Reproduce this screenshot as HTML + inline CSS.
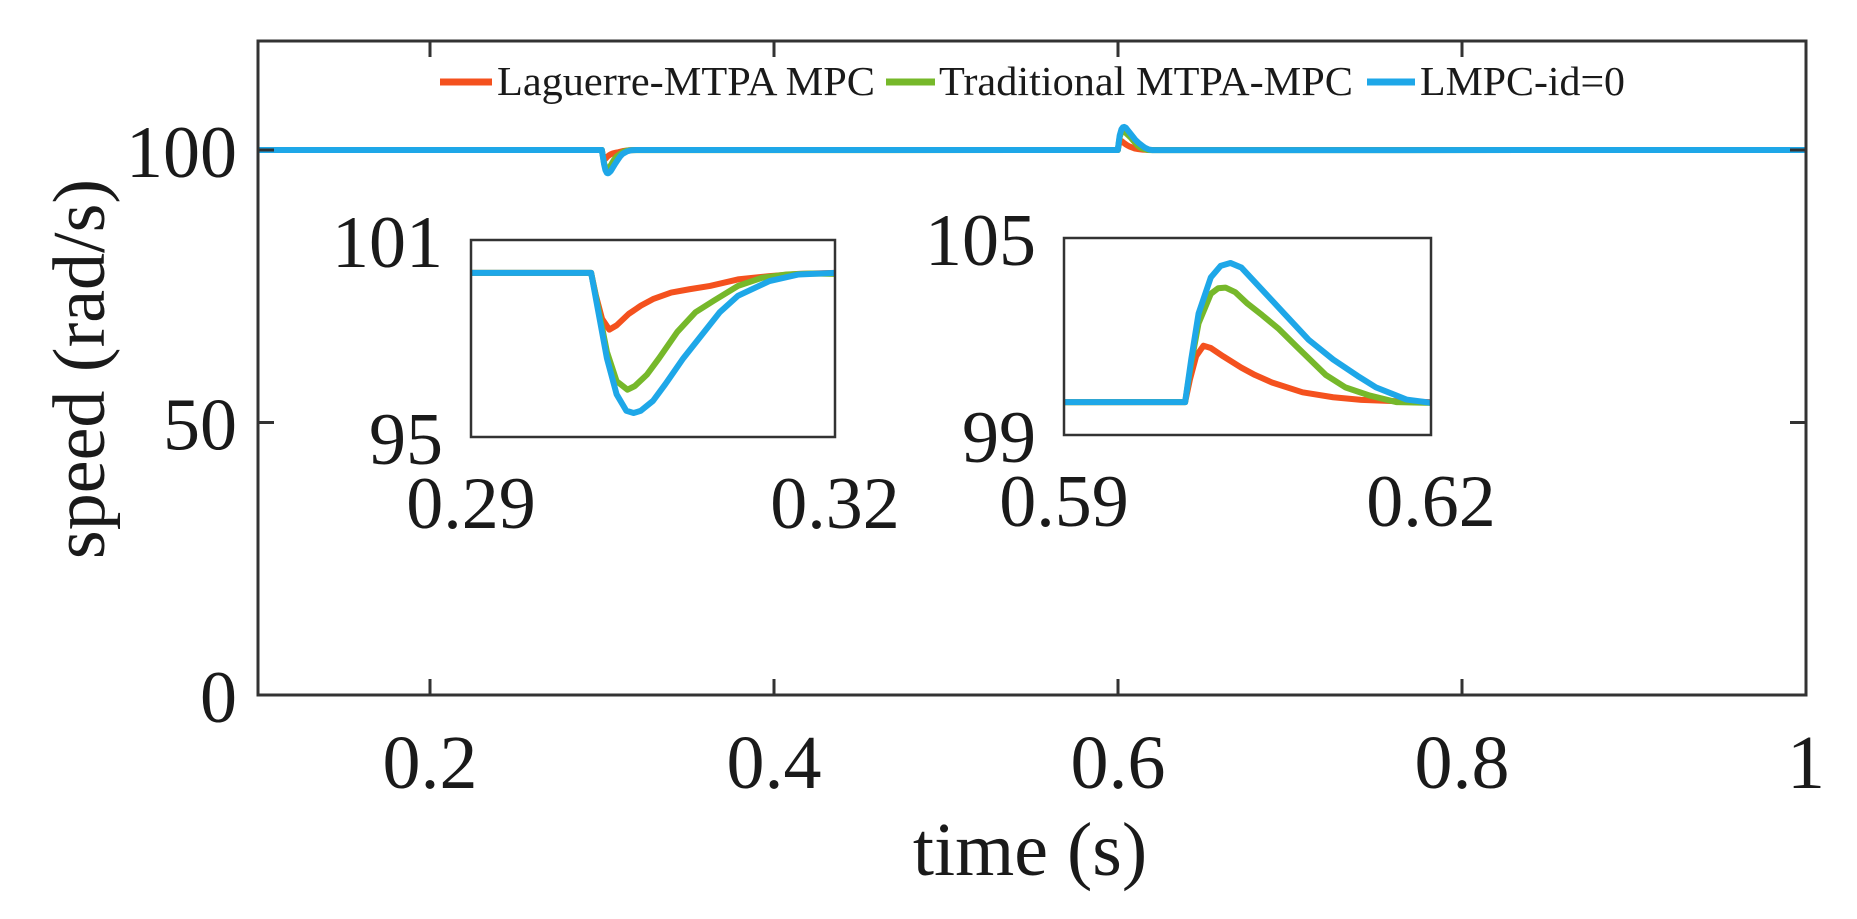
<!DOCTYPE html>
<html><head><meta charset="utf-8">
<style>
html,body{margin:0;padding:0;background:#fff;}
svg{display:block;}
text{font-family:"Liberation Serif","Times New Roman",serif;fill:#1a1a1a;}
</style></head>
<body>
<svg id="chart" width="1857" height="919" viewBox="0 0 1857 919" xmlns="http://www.w3.org/2000/svg">
<defs>
<clipPath id="clipMain"><rect x="258" y="41" width="1548" height="654"/></clipPath>
<clipPath id="clipIn1"><rect x="471" y="240" width="364" height="197"/></clipPath>
<clipPath id="clipIn2"><rect x="1064" y="238" width="367" height="197"/></clipPath>
</defs>
<g id="main"></g>
<g id="inset1"></g>
<g id="inset2"></g>
<g id="legend">
  <line x1="440" y1="82" x2="492" y2="82" stroke="#f4511e" stroke-width="7"/>
  <text x="497" y="95" font-size="41" textLength="378" lengthAdjust="spacingAndGlyphs">Laguerre-MTPA MPC</text>
  <line x1="886" y1="82" x2="935" y2="82" stroke="#76b82a" stroke-width="7"/>
  <text x="939" y="95" font-size="41" textLength="414" lengthAdjust="spacingAndGlyphs">Traditional MTPA-MPC</text>
  <line x1="1367" y1="82" x2="1415" y2="82" stroke="#1ea7e8" stroke-width="7"/>
  <text x="1420" y="95" font-size="41" textLength="205" lengthAdjust="spacingAndGlyphs">LMPC-id=0</text>
</g>
<text x="1030" y="875" font-size="76" text-anchor="middle">time (s)</text>
<text x="0" y="0" font-size="74" text-anchor="middle" transform="translate(104,369) rotate(-90)">speed (rad/s)</text>
</svg>
<script>
// ---- data ----
const seriesNames = ["Laguerre-MTPA MPC", "Traditional MTPA-MPC", "LMPC-id=0"];
const laguerreTime = [0.1,0.2999,0.3003,0.3008,0.3014,0.302,0.303,0.304,0.305,0.3065,0.308,0.3097,0.312,0.3146,0.317,0.32,0.5999,0.6003,0.6008,0.6014,0.602,0.603,0.6045,0.6056,0.607,0.6095,0.612,0.6143,0.617,0.62,1.0];
const laguerreSpeed = [100,100,99.3,98.6,98.27,98.4,98.75,99.0,99.2,99.4,99.5,99.6,99.8,99.9,99.97,100,100,100.7,101.4,101.72,101.65,101.4,101.05,100.83,100.6,100.3,100.15,100.07,100.03,100.0,100];
const traditionalTime = [0.1,0.2999,0.3005,0.3012,0.302,0.3029,0.3035,0.3045,0.3055,0.307,0.3085,0.31,0.312,0.314,0.316,0.318,0.32,0.5999,0.6004,0.601,0.602,0.6026,0.6032,0.604,0.605,0.6062,0.6075,0.609,0.6114,0.613,0.615,0.6172,0.62,1.0];
const traditionalSpeed = [100,100,98.9,97.6,96.7,96.44,96.55,96.9,97.4,98.2,98.8,99.15,99.6,99.85,99.95,99.98,99.97,100,101.2,102.4,103.3,103.47,103.49,103.35,103.0,102.65,102.25,101.7,100.83,100.45,100.2,100.0,99.98,100];
const lmpcTime = [0.1,0.2999,0.3005,0.3012,0.302,0.3028,0.3034,0.304,0.305,0.306,0.3075,0.309,0.3105,0.312,0.3146,0.317,0.32,0.5999,0.6004,0.601,0.602,0.6028,0.6036,0.6045,0.6055,0.6065,0.608,0.61,0.612,0.614,0.6155,0.618,0.62,1.0];
const lmpcSpeed = [100,100,98.8,97.4,96.3,95.8,95.73,95.8,96.1,96.6,97.4,98.1,98.8,99.3,99.75,99.95,100,100,101.3,102.7,103.8,104.15,104.24,104.1,103.7,103.3,102.7,101.9,101.3,100.8,100.45,100.08,99.98,100];
const mainXTicks = [0.2,0.4,0.6,0.8,1];
const mainXTickLabels = ["0.2","0.4","0.6","0.8","1"];
const mainYTicks = [0,50,100];
const mainYTickLabels = ["0","50","100"];
const inset1XLabels = ["0.29","0.32"];
const inset1YLabels = ["95","101"];
const inset2XLabels = ["0.59","0.62"];
const inset2YLabels = ["99","105"];

const colors = ["#f4511e","#76b82a","#1ea7e8"];
const NS = "http://www.w3.org/2000/svg";
function mk(tag, attrs, parent){const e=document.createElementNS(NS,tag);for(const k in attrs)e.setAttribute(k,attrs[k]);parent.appendChild(e);return e;}
function scale(d0,d1,r0,r1){return v=>r0+(v-d0)/(d1-d0)*(r1-r0);}
const allT=[laguerreTime,traditionalTime,lmpcTime], allV=[laguerreSpeed,traditionalSpeed,lmpcSpeed];
const keys=["laguerre","traditional","lmpc"];

function drawPanel(g, box, xd, yd, clip, lw, axisW){
  const sx=scale(xd[0],xd[1],box.x,box.x+box.w), sy=scale(yd[0],yd[1],box.y+box.h,box.y);
  const lines=mk('g',{'clip-path':'url(#'+clip+')'},g);
  for(let s=0;s<3;s++){
    const pts=allT[s].map((t,i)=>sx(t).toFixed(2)+','+sy(allV[s][i]).toFixed(2)).join(' ');
    const pl=mk('polyline',{points:pts,fill:'none',stroke:colors[s],'stroke-width':lw,'stroke-linejoin':'round'},lines);
    
    
  }
  const r=mk('rect',{x:box.x,y:box.y,width:box.w,height:box.h,fill:'none',stroke:'#333','stroke-width':axisW},g);
  
  
  return {sx,sy};
}

// main
const gMain=document.getElementById('main');
const M={x:258,y:41,w:1548,h:654};
const m=drawPanel(gMain,M,[0.1,1],[0,120],'clipMain',6,3);
mainXTicks.forEach((v,i)=>{
  const x=m.sx(v);
  if(v<1){
    mk('line',{x1:x,y1:M.y+M.h,x2:x,y2:M.y+M.h-16,stroke:'#333','stroke-width':3},gMain);
    mk('line',{x1:x,y1:M.y,x2:x,y2:M.y+16,stroke:'#333','stroke-width':3},gMain);
  }
  const t=mk('text',{x:x,y:788,'font-size':76,'text-anchor':'middle'},gMain);
  t.textContent=mainXTickLabels[i];
  
  
});
mainYTicks.forEach((v,i)=>{
  const y=m.sy(v);
  if(v>0&&v<120){
    mk('line',{x1:M.x,y1:y,x2:M.x+16,y2:y,stroke:'#333','stroke-width':3},gMain);
    mk('line',{x1:M.x+M.w,y1:y,x2:M.x+M.w-16,y2:y,stroke:'#333','stroke-width':3},gMain);
  }
  const t=mk('text',{x:237,y:y+27,'font-size':74,'text-anchor':'end'},gMain);
  t.textContent=mainYTickLabels[i];
  
  
});

function drawInset(id,box,xd,yd,clip,xl,yl){
  const g=document.getElementById(id);
  mk('rect',{x:box.x,y:box.y,width:box.w,height:box.h,fill:'#fff'},g);
  drawPanel(g,box,xd,yd,clip,6,2.5);
  [box.x,box.x+box.w].forEach((x,i)=>{
    const t=mk('text',{x:x,y:box.y+box.h+91,'font-size':74,'text-anchor':'middle'},g);
    t.textContent=xl[i];
    
    
  });
  [box.y+box.h,box.y].forEach((y,i)=>{
    const t=mk('text',{x:box.x-28,y:y+27,'font-size':74,'text-anchor':'end'},g);
    t.textContent=yl[i];
    
    
  });
}
drawInset('inset1',{x:471,y:240,w:364,h:197},[0.29,0.32],[95,101],'clipIn1',inset1XLabels,inset1YLabels);
drawInset('inset2',{x:1064,y:238,w:367,h:197},[0.59,0.62],[99,105],'clipIn2',inset2XLabels,inset2YLabels);
</script>
</body></html>
